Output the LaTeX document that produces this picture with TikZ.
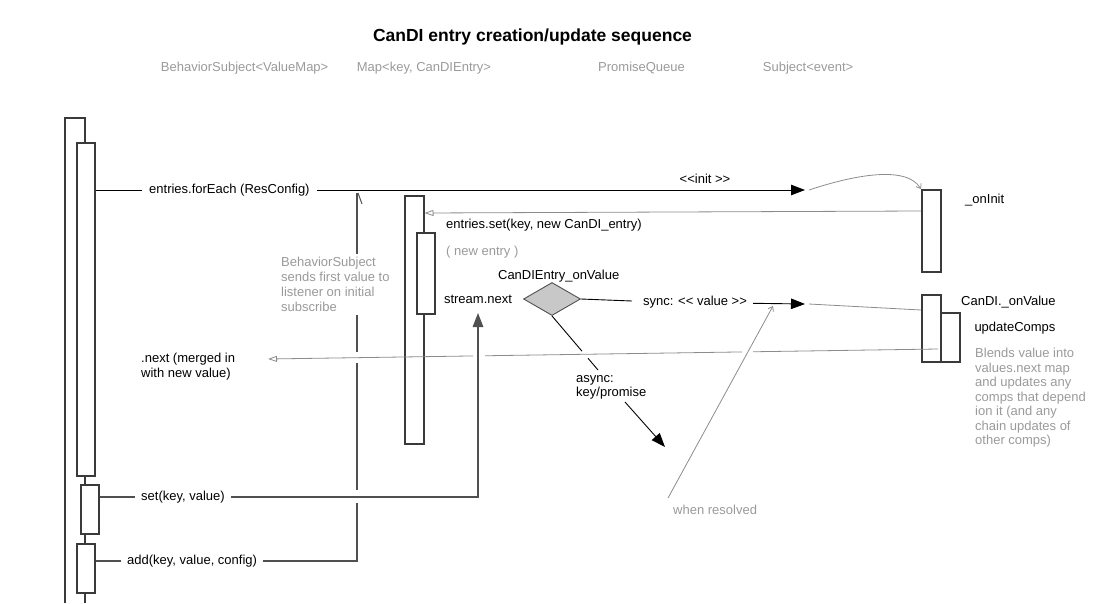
\documentclass[tikz,border=0pt]{standalone}
\usepackage{fontspec}
\setmainfont{Liberation Sans}
\usetikzlibrary{arrows.meta,shapes.geometric,calc,shadows}
\definecolor{boxc}{HTML}{3A3A3A}
\definecolor{graytxt}{HTML}{9A9A9A}
\definecolor{grayln}{HTML}{8C8C8C}
\definecolor{darkln}{HTML}{505050}
\definecolor{dfill}{HTML}{C8C8C8}
\begin{document}
\begin{tikzpicture}[x=1pt,y=-1pt,
  font=\fontsize{13}{14.5}\selectfont,
  actbox/.style={draw=boxc, fill=white, line width=1.5pt, inner sep=0pt, anchor=north west, rectangle,
    drop shadow={shadow xshift=1.2pt, shadow yshift=-1.2pt, opacity=0.25, fill=black}},
  lbl/.style={inner sep=0pt, anchor=west, text=black},
  glbl/.style={inner sep=0pt, anchor=west, text=graytxt},
  hdr/.style={inner sep=0pt, anchor=west, text=graytxt},
  msg/.style={draw=black, line width=0.9pt},
  gmsg/.style={draw=grayln, line width=0.8pt},
  dmsg/.style={draw=darkln, line width=1.4pt},
  fillarrow/.style={-{Triangle[length=14pt,width=10.5pt]}},
  openarrow/.style={-{Triangle[open,length=9pt,width=6pt]}},
  barb/.style={-{Straight Barb[length=4pt,width=6pt]}},
]
\useasboundingbox (0,0) rectangle (1111,603);

% title and headers
\node[inner sep=0pt, font=\fontsize{17.5}{20}\selectfont\bfseries] (title) at (532.5,36.5) {CanDI entry creation/update sequence};
\node[hdr] (hBS) at (160.7,68.5) {BehaviorSubject<ValueMap>};
\node[hdr] (hMap) at (356.7,68.5) {Map<key, CanDIEntry>};
\node[hdr] (hPQ) at (598,68.5) {PromiseQueue};
\node[hdr] (hSub) at (762.7,68.5) {Subject<event>};

% outer lifeline of BehaviorSubject
\coordinate (bsTopL) at (65,118);
\coordinate (bsTopR) at (85,118);
\coordinate (bsBotL) at (65,603);
\coordinate (bsBotR) at (85,603);
\draw[draw=boxc, line width=1.5pt] (bsBotL) -- (bsTopL) -- (bsTopR) -- (bsBotR);

% activation boxes
\node[actbox, minimum width=18pt, minimum height=333pt] (bsAct1) at (76,142) {};
\node[actbox, minimum width=18pt, minimum height=49pt] (bsSet) at (80,484) {};
\node[actbox, minimum width=18pt, minimum height=49pt] (bsAdd) at (76,543) {};
\node[actbox, minimum width=19pt, minimum height=248pt] (mapAct) at (404,195) {};
\node[actbox, minimum width=18pt, minimum height=81pt] (mapIn) at (416,232) {};
\node[actbox, minimum width=19pt, minimum height=82pt] (initAct) at (921,189) {};
\node[actbox, minimum width=19pt, minimum height=67pt] (valAct) at (921,294) {};
\node[actbox, minimum width=19pt, minimum height=49pt] (updAct) at (940,312) {};

% diamond
\node[diamond, draw=darkln, fill=dfill, line width=0.9pt, minimum width=57pt, minimum height=33pt, inner sep=0pt] (dia) at (552,299) {};

% entries.forEach
\node[lbl, inner xsep=7pt] (fe) at (142,190) {entries.forEach (ResConfig)};
\coordinate (initTip) at (805,190);
\draw[msg] (bsAct1.east |- fe.west) -- (fe.west);
\draw[msg, fillarrow] (fe.east) -- (initTip);
\node[inner sep=0pt] (initLbl) at (705,179) {<\kern0pt<init >\kern0pt>};
\coordinate (curveS) at (809,190);
\draw[gmsg, barb] (curveS) .. controls (845,178) and (905,163) .. (initAct.north west);

% entries.set
\coordinate (esR) at (921,211);
\coordinate (esL) at (423,213);
\draw[gmsg, openarrow] (initAct.west |- esR) -- (mapAct.east |- esL);
\node[lbl] (esLbl) at (446,225) {entries.set(key, new CanDI\_entry)};
\node[glbl] (newEntry) at (446,252) {( new entry )};
\node[inner sep=0pt] (cvLbl) at (558.7,276) {CanDIEntry\_onValue};
\node[inner sep=0pt] (stream) at (478,299) {stream.next};

% sync
\node[inner sep=0pt] (syncLbl) at (695,302.5) {sync: <\kern0pt< value >\kern0pt>};
\coordinate (syncA) at (632,301);
\coordinate (syncB) at (753,303.3);
\coordinate (syncTip) at (805,304);
\draw[msg] (dia.east) -- (syncA);
\draw[msg, fillarrow] (syncB) -- (syncTip);
\coordinate (valS) at (809,304);
\coordinate (valE) at (921,310);
\draw[gmsg] (valS) -- (valAct.west |- valE);

% async
\coordinate (aE) at (598,370);
\draw[msg] (dia.south) -- ($(dia.south)!0.652!(aE)$);
\draw[msg] ($(dia.south)!0.783!(aE)$) -- (aE);
\node[lbl, anchor=north west, align=left, font=\fontsize{13}{14}\selectfont] (asyncLbl) at (576,375) {async:\\key/promise};
\coordinate (asA) at (625,402);
\coordinate (asTip) at (665,447);
\draw[msg, fillarrow] (asA) -- (asTip);

% right labels
\node[lbl] (onInit) at (965,200) {\_onInit};
\node[lbl] (onVal) at (961,302.5) {CanDI.\_onValue};
\node[lbl] (updLbl) at (974.3,328.5) {updateComps};
\node[glbl, anchor=north west, align=left] (blends) at (975,348) {Blends value into\\values.next map\\and updates any\\comps that depend\\ion it (and any\\chain updates of\\other comps)};

% .next return
\coordinate (nxS) at (938,349);
\coordinate (nxE) at (268,359);
\draw[gmsg] (nxS) -- ($(nxS)!0.276!(nxE)$);
\draw[gmsg] ($(nxS)!0.2925!(nxE)$) -- ($(nxS)!0.676!(nxE)$);
\draw[gmsg, openarrow] ($(nxS)!0.694!(nxE)$) -- (nxE);
\node[lbl, anchor=north west, align=left, font=\fontsize{13}{15}\selectfont] (nextLbl) at (141,353) {.next (merged in\\with new value)};

% when resolved
\node[glbl] (wrLbl) at (673,509.5) {when resolved};
\coordinate (wrS) at (668,498);
\coordinate (wrE) at (773,306);
\draw[gmsg, barb] (wrS) -- (wrE);

% set(key, value)
\node[lbl, inner xsep=6pt] (setLbl) at (135,497) {set(key, value)};
\coordinate (setCorner) at (478,497);
\coordinate (streamTip) at (478,313);
\draw[dmsg] (bsSet.east |- setLbl.west) -- (setLbl.west);
\draw[dmsg, fillarrow] (setLbl.east) -- (setCorner) -- (streamTip);

% add(key, value, config)
\node[lbl, inner xsep=6pt] (addLbl) at (121,561) {add(key, value, config)};
\coordinate (addCorner) at (357,561);
\coordinate (vTop) at (357,193);
\draw[dmsg] (bsAdd.east |- addLbl.west) -- (addLbl.west);
\draw[dmsg] (addLbl.east) -- (addCorner) -- ($(addCorner)!0.1576!(vTop)$);
\draw[dmsg] ($(addCorner)!0.1929!(vTop)$) -- ($(addCorner)!0.538!(vTop)$);
\draw[dmsg] ($(addCorner)!0.568!(vTop)$) -- (vTop);
\draw[dmsg, line width=1pt] ($(vTop)+(1,0)$) -- ($(vTop)+(5,11)$);

% BehaviorSubject note (white background over the line)
\node[anchor=north west, align=left, text=graytxt, fill=white, inner xsep=2pt, inner ysep=3pt, font=\fontsize{13}{15}\selectfont] (bsNote) at (279,254) {BehaviorSubject\\sends first value to\\listener on initial\\subscribe};
\end{tikzpicture}
\end{document}
